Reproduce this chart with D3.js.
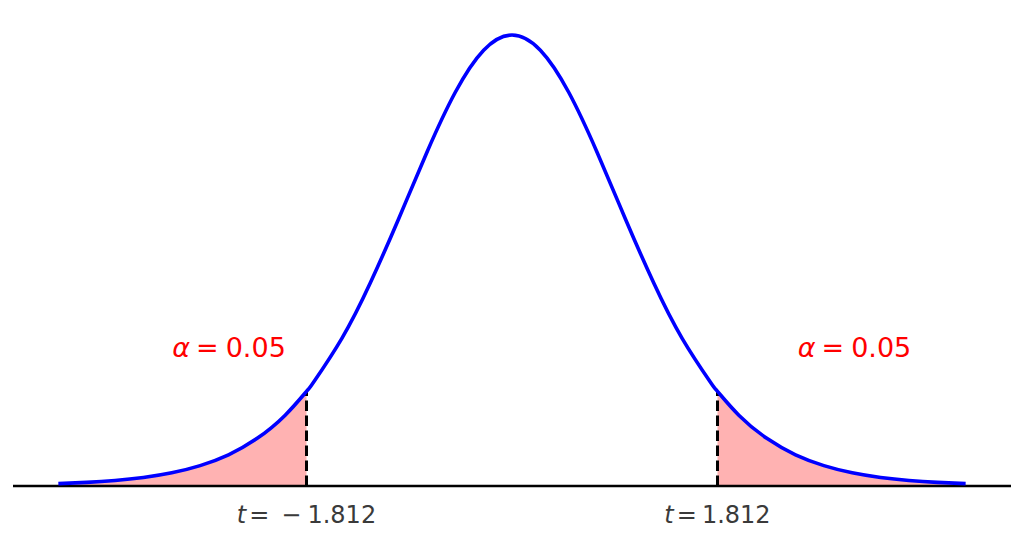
<!DOCTYPE html>
<html>
<head>
<meta charset="UTF-8">
<title>t distribution - critical regions</title>
<script src="https://cdn.jsdelivr.net/npm/d3@7"></script>
<style>
  html, body { margin: 0; padding: 0; background: #fff; }
  svg { display: block; }
  text { font-family: "DejaVu Sans", sans-serif; }
</style>
</head>
<body>
<svg id="chart" width="1024" height="541"></svg>
<script>
// density of the curve (t, df = 10)
var tValues = [-4, -3.75, -3.5, -3.25, -3, -2.75, -2.5, -2.25, -2, -1.812, -1.75, -1.5, -1.25, -1, -0.75, -0.5, -0.25,
               0, 0.25, 0.5, 0.75, 1, 1.25, 1.5, 1.75, 1.812, 2, 2.25, 2.5, 2.75, 3, 3.25, 3.5, 3.75, 4];
var density = [0.00203, 0.00311, 0.00478, 0.00738, 0.0114, 0.0176, 0.0269, 0.0409, 0.0611, 0.0816, 0.0895, 0.1274, 0.1751, 0.2304, 0.2880, 0.3397, 0.3760,
               0.3891, 0.3760, 0.3397, 0.2880, 0.2304, 0.1751, 0.1274, 0.0895, 0.0816, 0.0611, 0.0409, 0.0269, 0.0176, 0.0114, 0.00738, 0.00478, 0.00311, 0.00203];
var critical = [-1.812, 1.812];
var critDensity = [0.0816, 0.0816];
var alphaLabels = ["0.05", "0.05"];
var alphaPos = [-2.495, 3.02];   // x (t units) where each alpha label is centred
var alphaY = 0.111;              // baseline height of the alpha labels

var svg = d3.select("#chart");
var x = d3.scaleLinear().domain([-4.4, 4.4]).range([13, 1011]);
var y = d3.scaleLinear().domain([0, 0.3891]).range([486, 35]);

var pts = tValues.map(function (t, i) { return { t: t, d: density[i] }; });

var area = d3.area()
    .x(function (p) { return x(p.t); })
    .y0(y(0))
    .y1(function (p) { return y(p.d); })
    .curve(d3.curveNatural);

// shaded tails
svg.append("path")
    .datum(pts.filter(function (p) { return p.t <= critical[0]; }))
    .attr("d", area)
    .attr("fill", "red").attr("fill-opacity", 0.3);
svg.append("path")
    .datum(pts.filter(function (p) { return p.t >= critical[1]; }))
    .attr("d", area)
    .attr("fill", "red").attr("fill-opacity", 0.3);

// baseline
svg.append("line")
    .attr("x1", x(-4.4)).attr("x2", x(4.4))
    .attr("y1", y(0)).attr("y2", y(0))
    .attr("stroke", "#000").attr("stroke-width", 2.5);

// critical value lines
svg.selectAll(".crit")
    .data(critical)
    .enter()
    .append("line")
    .attr("class", "crit")
    .attr("x1", function (d) { return x(d); })
    .attr("x2", function (d) { return x(d); })
    .attr("y1", y(0))
    .attr("y2", function (d, i) { return y(critDensity[i]); })
    .attr("stroke", "#000")
    .attr("stroke-width", 3)
    .attr("stroke-dasharray", "10.5,4.5");

// the curve
var line = d3.line()
    .x(function (p) { return x(p.t); })
    .y(function (p) { return y(p.d); })
    .curve(d3.curveNatural);

svg.append("path")
    .datum(pts)
    .attr("d", line)
    .attr("fill", "none")
    .attr("stroke", "blue")
    .attr("stroke-width", 3.6);

// alpha labels
alphaLabels.forEach(function (lab, i) {
    var txt = svg.append("text")
        .attr("x", x(alphaPos[i]))
        .attr("y", y(alphaY))
        .attr("text-anchor", "middle")
        .attr("font-size", 27)
        .attr("fill", "red");
    txt.append("tspan").attr("font-style", "italic").text("α");
    txt.append("tspan").attr("dx", 6).text("=");
    txt.append("tspan").attr("dx", 7).text(lab);
});

// t labels under the critical lines
critical.forEach(function (c) {
    var txt = svg.append("text")
        .attr("x", x(c))
        .attr("y", 523)
        .attr("text-anchor", "middle")
        .attr("font-size", 24)
        .attr("fill", "#3a3a3a");
    txt.append("tspan").attr("font-style", "italic").text("t");
    txt.append("tspan").attr("dx", 3).text("=");
    if (c < 0) {
        txt.append("tspan").attr("dx", 12).text("−");
        txt.append("tspan").attr("dx", 6).text(d3.format(".3f")(-c));
    } else {
        txt.append("tspan").attr("dx", 5).text(d3.format(".3f")(c));
    }
});
</script>
</body>
</html>
